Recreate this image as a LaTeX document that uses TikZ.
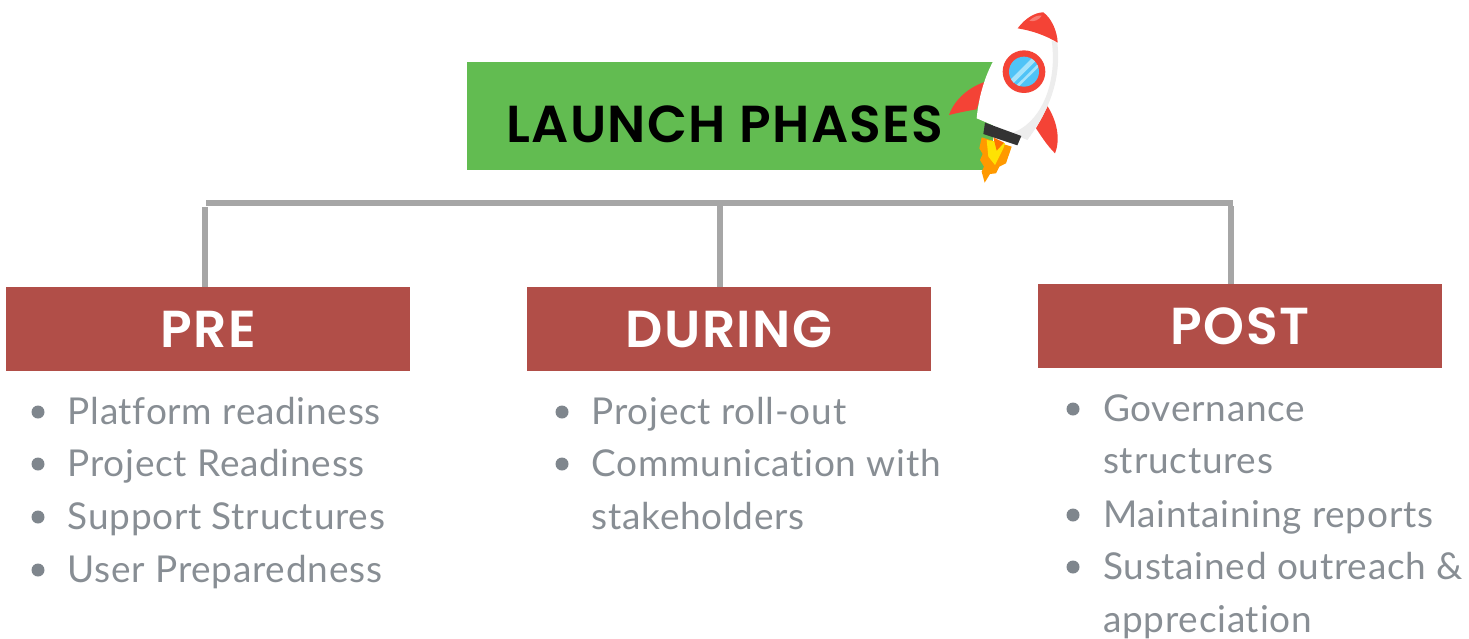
\documentclass[tikz,border=0pt]{standalone}
\usepackage{fontspec}
\setmainfont{Poppins}
\newfontfamily\headfont[LetterSpace=3]{Poppins}[UprightFont=* SemiBold]
\newfontfamily\titlefont[LetterSpace=2.5]{Poppins}[UprightFont=* SemiBold]
\newfontfamily\bodyfont[LetterSpace=2,Ligatures=NoCommon]{Lato}
\usetikzlibrary{calc}
\definecolor{hgreen}{HTML}{62BC51}
\definecolor{phred}{HTML}{B14E48}
\definecolor{linegrey}{HTML}{A6A6A6}
\definecolor{bodygrey}{HTML}{888E94}
\definecolor{dotgrey}{HTML}{7F868D}
\definecolor{rocketred}{HTML}{F44336}
\definecolor{glassblue}{HTML}{4FC3F7}
\definecolor{glasslight}{HTML}{A5E3FB}
\tikzset{
  phasebox/.style={fill=phred,text=white,minimum width=404pt,minimum height=84pt,inner sep=0pt,font=\headfont\fontsize{52}{52}\selectfont},
  conn/.style={draw=linegrey,line width=6pt},
  itemtext/.style={anchor=base west,inner sep=0pt,text=bodygrey,font=\bodyfont\fontsize{37}{37}\selectfont},
  dotmark/.style={circle,fill=dotgrey,minimum size=13pt,inner sep=0pt}
}
\begin{document}
\begin{tikzpicture}[x=1pt,y=-1pt]
\useasboundingbox (0,0) rectangle (1469,638);
% header
\node[fill=hgreen,minimum width=526pt,minimum height=108pt,inner sep=0pt] (head) at (730,116) {};
\node[inner sep=0pt,font=\titlefont\fontsize{52}{52}\selectfont,text=black] (headtext) at (725,124) {LAUNCH PHASES};
% phase boxes
\node[phasebox] (pre) at (208,329) {PRE};
\node[phasebox] (during) at (729,329) {DURING};
\node[phasebox] (post) at (1240,326) {POST};
% connectors
\coordinate (busL) at (206,203);
\coordinate (busR) at (1233,203);
\coordinate (busM) at (720,204);
\coordinate (busLdrop) at (205,207);
\coordinate (busRdrop) at (1231,206);
\draw[conn] (busL) -- (busR);
\draw[conn] (busLdrop) -- (busLdrop |- pre.north);
\draw[conn] (busM) -- (busM |- during.north);
\draw[conn] (busRdrop) -- (busRdrop |- post.north);
% lists
\foreach \nm/\dx/\tx/\by/\txt in {
 a/38/67.5/424/{Platform readiness},
 b/38/67.5/476/{Project Readiness},
 c/38/67.5/529/{Support Structures},
 d/38/67.5/582/{User Preparedness},
 e/562/591.5/424/{Project roll-out},
 f/562/591.5/476/{Communication with},
 h/1073/1103/421/{Governance},
 j/1073/1103/527/{Maintaining reports},
 k/1073/1103/579/{Sustained outreach \&}}{
  \node[dotmark] (dot\nm) at (\dx,\by-12) {};
  \node[itemtext] (it\nm) at (\tx,\by) {\txt};
}
\node[itemtext] (itg) at (591.5,529) {stakeholders};
\node[itemtext] (iti) at (1103,473) {structures};
\node[itemtext] (itl) at (1103,632) {appreciation};
% rocket
\begin{scope}[shift={(940,0)},x=0.3333pt,y=-0.3333pt]
 \fill[rocketred] (27,345) .. controls (45,295) and (90,260) .. (137,245) -- (110,328) .. controls (85,332) and (55,338) .. (27,345) -- cycle;
 \fill[rocketred] (318,312) .. controls (345,350) and (365,410) .. (345,460) .. controls (320,435) and (305,410) .. (288,385) -- cycle;
 % flame
 \fill[orange!80!yellow] (125,412) -- (118,445) -- (128,462) -- (120,480) -- (132,500) -- (125,515) -- (134,548) -- (150,522) -- (168,520) -- (178,500) -- (198,490) -- (215,440) -- cycle;
 \fill[yellow!85!orange] (140,420) -- (145,470) -- (165,495) -- (190,445) -- (195,430) -- cycle;
 \fill[orange!90!red] (160,412) -- (170,452) -- (192,428) -- cycle;
 % body
 \fill[white] (238,85) -- (352,128) .. controls (362,210) and (345,310) .. (262,420) -- (110,355) .. controls (118,270) and (150,160) .. (238,85) -- cycle;
 \fill[black!7] (335,122) -- (352,128) .. controls (362,210) and (345,310) .. (262,420) -- (215,400) .. controls (310,365) and (352,240) .. (335,122) -- cycle;
 \fill[black!80] (135,368) -- (244,408) -- (232,436) -- (130,402) -- cycle;
 % nose
 \fill[rocketred] (233,85) .. controls (255,55) and (285,37) .. (310,37) .. controls (335,55) and (352,95) .. (353,128) .. controls (315,105) and (275,92) .. (233,85) -- cycle;
 \fill[white,opacity=.3] (268,62) .. controls (280,50) and (295,45) .. (305,47) .. controls (300,58) and (280,68) .. (268,62) -- cycle;
 % window
 \fill[rocketred] (252,215) circle[radius=64];
 \fill[glassblue] (252,215) circle[radius=45];
 \begin{scope}
  \clip (252,215) circle[radius=45];
  \fill[glasslight] (210,240) -- (280,170) -- (290,180) -- (220,250) -- cycle;
  \fill[glasslight] (230,255) -- (296,190) -- (300,197) -- (236,260) -- cycle;
 \end{scope}
\end{scope}
\end{tikzpicture}
\end{document}
